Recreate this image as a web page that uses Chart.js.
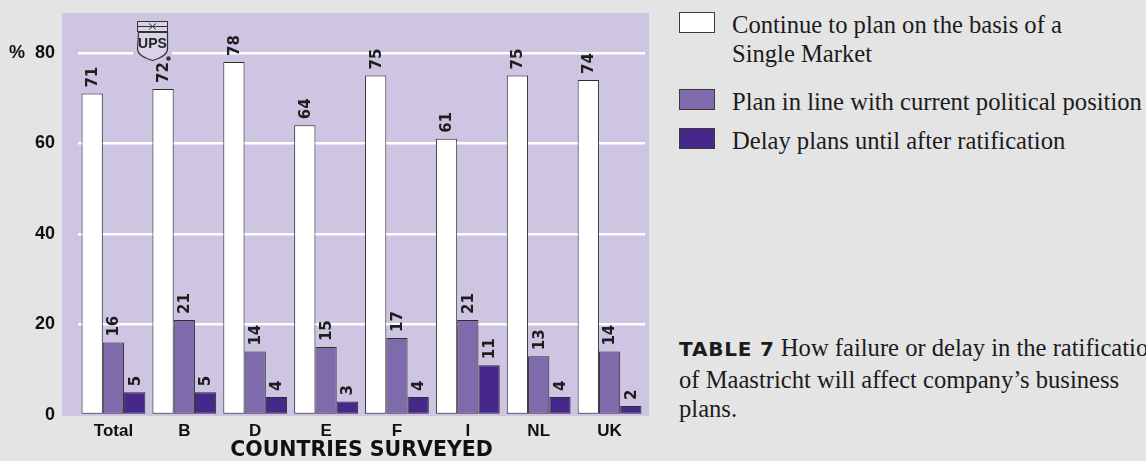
<!DOCTYPE html>
<html>
<head>
<meta charset="utf-8">
<script src="https://cdn.jsdelivr.net/npm/chart.js@4.4.1/dist/chart.umd.min.js"></script>
<style>
  html, body { margin: 0; padding: 0; width: 1146px; height: 461px; overflow: hidden; background: #e4e4e4; }
  #chartBox { position: absolute; left: 0; top: 0; width: 660px; height: 461px; }
  #logo { position: absolute; left: 133px; top: 20px; }
  .key { position: absolute; left: 679px; width: 34px; height: 19px; border: 1px solid #3a3a3a; }
  .keyText { position: absolute; left: 732px; font-family: 'Liberation Serif', serif; font-size: 24.6px; line-height: 29px; color: #1b1b1b; white-space: nowrap; }
  #caption { position: absolute; left: 679px; top: 333px; font-family: 'Liberation Serif', serif; font-size: 24.6px; line-height: 29.5px; color: #1b1b1b; white-space: nowrap; }
  #caption b { font-family: 'DejaVu Sans', sans-serif; font-size: 20px; font-weight: bold; letter-spacing: 0.8px; }
</style>
</head>
<body>
<div id="chartBox"><canvas id="plansChart" width="660" height="461"></canvas></div>

<svg id="logo" width="39" height="43" viewBox="0 0 39 43">
  <rect x="0" y="29" width="39" height="8" fill="#cdc5e1"/>
  <rect x="4.5" y="1.5" width="30" height="10" fill="#d9d3e8" stroke="#333" stroke-width="1"/>
  <line x1="4.5" y1="6.5" x2="34.5" y2="6.5" stroke="#333" stroke-width="1"/>
  <path d="M16 3.5 L23 9.5 M23 3.5 L16 9.5" stroke="#333" stroke-width="1"/>
  <path d="M5.5 12.5 L34.5 12.5 L34.5 29 Q34.5 36 19.5 40.5 Q4.5 36 4.5 29 Z" fill="#d9d3e8" stroke="#333" stroke-width="1.2"/>
  <text x="19.5" y="28" text-anchor="middle" font-family="'Liberation Sans Narrow','Liberation Sans',sans-serif" font-weight="bold" font-size="14" fill="#222">UPS</text>
  <circle cx="35.5" cy="38.5" r="2.2" fill="#333"/>
</svg>

<div id="legend"></div>
<div id="caption"><b>TABLE 7</b> How failure or delay in the ratification<br>of Maastricht will affect company’s business<br>plans.</div>

<script>
// Survey answers per country (%)
const categories = ['Total', 'B', 'D', 'E', 'F', 'I', 'NL', 'UK'];
const continuePlan = [71, 72, 78, 64, 75, 61, 75, 74];
const politicalPlan = [16, 21, 14, 15, 17, 21, 13, 14];
const delayPlan = [5, 5, 4, 3, 4, 11, 4, 2];
const yTicks = [0, 20, 40, 60, 80];

const seriesNames = [
    ['Continue to plan on the basis of a', 'Single Market'],
    ['Plan in line with current political position'],
    ['Delay plans until after ratification']
];
const seriesColors = ['#ffffff', '#7f6aab', '#46288a'];

const panelColor = '#cdc5e1';

// legend on the right, built from the series arrays
const keyTops = [12, 89, 128];
const legendEl = document.getElementById('legend');
seriesNames.forEach((lines, i) => {
    const box = document.createElement('div');
    box.className = 'key';
    box.style.top = keyTops[i] + 'px';
    box.style.background = seriesColors[i];
    legendEl.appendChild(box);
    const txt = document.createElement('div');
    txt.className = 'keyText';
    txt.style.top = (keyTops[i] - 1.8) + 'px';
    txt.innerHTML = lines.join('<br>');
    legendEl.appendChild(txt);
});

// lavender panel behind the plot, a bit wider than the chart area
const panelBackground = {
    id: 'panelBackground',
    beforeDraw(chart) {
        const { ctx, chartArea } = chart;
        ctx.save();
        ctx.fillStyle = panelColor;
        ctx.fillRect(chartArea.left - 16, chartArea.top,
            chartArea.right - chartArea.left + 20, chartArea.bottom - chartArea.top + 1);
        ctx.restore();
    }
};

// rotated value above each bar
const barValues = {
    id: 'barValues',
    afterDatasetsDraw(chart) {
        const ctx = chart.ctx;
        ctx.save();
        ctx.font = 'bold 15px "DejaVu Sans"';
        ctx.fillStyle = '#1e1e1e';
        ctx.textAlign = 'left';
        ctx.textBaseline = 'middle';
        chart.data.datasets.forEach((ds, i) => {
            chart.getDatasetMeta(i).data.forEach((bar, j) => {
                ctx.save();
                ctx.translate(bar.x + 1, bar.y - 6);
                ctx.rotate(-Math.PI / 2);
                ctx.fillText(String(ds.data[j]), 0, 0);
                ctx.restore();
            });
        });
        ctx.restore();
    }
};

function noScalePadding(scale) {
    scale.paddingTop = 0;
    scale.paddingBottom = 0;
    scale.paddingLeft = 0;
    scale.paddingRight = 0;
}

new Chart(document.getElementById('plansChart'), {
    type: 'bar',
    data: {
        labels: categories,
        datasets: [
            { label: seriesNames[0].join(' '), data: continuePlan, backgroundColor: seriesColors[0] },
            { label: seriesNames[1][0], data: politicalPlan, backgroundColor: seriesColors[1] },
            { label: seriesNames[2][0], data: delayPlan, backgroundColor: seriesColors[2] }
        ].map(ds => Object.assign(ds, {
            borderColor: '#2e2e2e',
            borderWidth: 1,
            borderSkipped: false,
            categoryPercentage: 0.9,
            barPercentage: 1.0
        }))
    },
    options: {
        responsive: false,
        animation: false,
        devicePixelRatio: 1,
        layout: { padding: { top: 13, right: 15, left: 0, bottom: 0 } },
        plugins: {
            legend: { display: false },
            tooltip: { enabled: false }
        },
        scales: {
            x: {
                grid: { display: false, drawTicks: false },
                border: { display: false },
                ticks: {
                    color: '#111',
                    padding: 6,
                    font: { family: "'Liberation Sans', Arial, sans-serif", size: 17, weight: 'bold' }
                },
                title: {
                    display: true,
                    text: 'COUNTRIES SURVEYED',
                    color: '#111',
                    padding: { top: 0, bottom: 0 },
                    font: { family: "'DejaVu Sans', sans-serif", size: 20.5, weight: 'bold', lineHeight: 1 }
                },
                afterFit(scale) { scale.height = 46; noScalePadding(scale); }
            },
            y: {
                min: 0,
                max: 88.8,
                grid: {
                    drawTicks: false,
                    lineWidth: 2.6,
                    color: ctx => (ctx.tick && ctx.tick.value === 0) ? 'rgba(0,0,0,0)' : '#ffffff'
                },
                border: { display: false },
                afterBuildTicks(scale) { scale.ticks = yTicks.map(v => ({ value: v })); },
                ticks: {
                    color: '#111',
                    padding: 23,
                    font: { family: "'Liberation Sans', Arial, sans-serif", size: 18, weight: 'bold' },
                    callback: v => v === yTicks[yTicks.length - 1] ? '%  ' + v : String(v)
                },
                afterFit(scale) { scale.width = 78; noScalePadding(scale); }
            }
        }
    },
    plugins: [panelBackground, barValues]
});
</script>
</body>
</html>
